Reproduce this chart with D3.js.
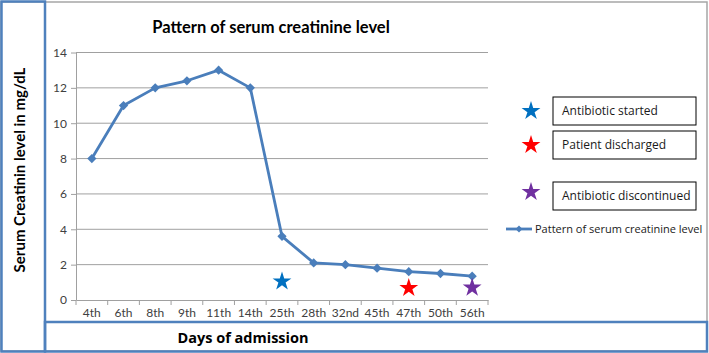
<!DOCTYPE html>
<html>
<head>
<meta charset="utf-8">
<script src="https://cdn.jsdelivr.net/npm/d3@7/dist/d3.min.js"></script>
<style>
  body { margin: 0; background: #fff; }
  text { font-family: "Open Sans", "Noto Sans", sans-serif; }
</style>
</head>
<body>
<div id="chart"></div>
<script>
// data
const days = ["4th", "6th", "8th", "9th", "11th", "14th", "25th", "28th", "32nd", "45th", "47th", "50th", "56th"];
const creatinine = [8, 11, 12, 12.4, 13, 12, 3.6, 2.1, 2.0, 1.8, 1.6, 1.5, 1.35];
const yTicks = [0, 2, 4, 6, 8, 10, 12, 14];
const eventLabels = ["Antibiotic started", "Patient discharged", "Antibiotic discontinued"];
const eventDays = ["25th", "47th", "56th"];
const eventValues = [1.05, 0.68, 0.7];
const eventColors = ["#0070c0", "#ff0000", "#7030a0"];

const W = 709, H = 353;
const svg = d3.select("#chart").append("svg").attr("width", W).attr("height", H);

// outer frame
svg.append("rect").attr("x", 1).attr("y", 2).attr("width", W - 3).attr("height", H - 4)
    .attr("fill", "none").attr("stroke", "#a6a6a6").attr("stroke-width", 1.5);

let x = d3.scaleBand().domain(days).range([76, 488]);
let y = d3.scaleLinear().domain([0, 14]).range([300, 52.5]);

// gridlines
svg.append("g").selectAll("line").data(yTicks.filter(d => d > 0)).join("line")
    .attr("x1", 76).attr("x2", 488)
    .attr("y1", d => y(d)).attr("y2", d => y(d))
    .attr("stroke", "#a0a0a0").attr("stroke-width", 1);

// y axis
let yAxis = svg.append("g").attr("transform", "translate(76,0)")
    .call(d3.axisLeft(y).tickValues(yTicks).tickSize(5).tickSizeOuter(0));
yAxis.select(".domain").attr("stroke", "#a0a0a0");
yAxis.selectAll(".tick line").attr("stroke", "#a0a0a0");
yAxis.selectAll("text").attr("fill", "#404040").style("font-size", "12px")
    .style("font-family", "Lato, sans-serif").attr("x", -9);

// x axis, ticks between categories
let xAxis = svg.append("g").attr("transform", "translate(0,300)")
    .call(d3.axisBottom(x).tickSize(0).tickPadding(8));
xAxis.select(".domain").attr("stroke", "#a0a0a0");
xAxis.selectAll("text").attr("fill", "#404040").style("font-size", "12px")
    .style("font-family", "Lato, sans-serif");
svg.append("g").selectAll("line").data(days.concat(["end"])).join("line")
    .attr("x1", (d, i) => i < days.length ? x(d) : x.range()[1])
    .attr("x2", (d, i) => i < days.length ? x(d) : x.range()[1])
    .attr("y1", 300).attr("y2", 305)
    .attr("stroke", "#a0a0a0");

// line
const lineColor = "#4a7ebb";
svg.append("path")
    .datum(creatinine)
    .attr("d", d3.line().x((d, i) => x(days[i]) + x.bandwidth() / 2).y(d => y(d)))
    .attr("fill", "none").attr("stroke", lineColor).attr("stroke-width", 2.8)
    .attr("stroke-linejoin", "round");

let diamond = d3.symbol().type(d3.symbolDiamond2).size(55);
svg.append("g").selectAll("path").data(creatinine).join("path")
    .attr("d", diamond)
    .attr("transform", (d, i) => `translate(${x(days[i]) + x.bandwidth() / 2},${y(d)})`)
    .attr("fill", lineColor);

// event stars on the plot
let star = d3.symbol().type(d3.symbolStar).size(110);
svg.append("g").selectAll("path").data(eventDays).join("path")
    .attr("d", star)
    .attr("transform", (d, i) => `translate(${x(d) + x.bandwidth() / 2},${y(eventValues[i])})`)
    .attr("fill", (d, i) => eventColors[i]);

// title
svg.append("text").attr("x", 271).attr("y", 33).attr("text-anchor", "middle")
    .style("font-family", "Lato, sans-serif")
    .style("font-size", "16.5px").style("font-weight", "bold").attr("fill", "#000")
    .text("Pattern of serum creatinine level");

// left label box
const boxBlue = "#4f81bd";
svg.append("rect").attr("x", 1.5).attr("y", 1.5).attr("width", 43.5).attr("height", H - 3)
    .attr("fill", "none").attr("stroke", boxBlue).attr("stroke-width", 2.5);
svg.append("text").attr("transform", "translate(25,170) rotate(-90)")
    .attr("text-anchor", "middle").style("font-size", "15px").style("font-weight", "bold")
    .style("font-family", "Lato, sans-serif")
    .text("Serum Creatinin level in mg/dL");

// bottom label box
svg.append("rect").attr("x", 45).attr("y", 322).attr("width", 662).attr("height", 29.5)
    .attr("fill", "none").attr("stroke", boxBlue).attr("stroke-width", 2.5);
svg.append("text").attr("x", 243).attr("y", 343).attr("text-anchor", "middle")
    .style("font-size", "14.5px").style("font-weight", "bold")
    .text("Days of admission");

// legend boxes for events
const boxTops = [97, 131, 182];
const legend = svg.append("g");
eventLabels.forEach((lab, i) => {
    legend.append("path").attr("d", star)
        .attr("transform", `translate(531,${boxTops[i] + (i === 2 ? 10 : 14)})`)
        .attr("fill", eventColors[i]);
    legend.append("rect").attr("x", 553).attr("y", boxTops[i]).attr("width", 143).attr("height", 28)
        .attr("fill", "#fff").attr("stroke", "#000").attr("stroke-width", 1);
    legend.append("text").attr("x", 562).attr("y", boxTops[i] + 18)
        .style("font-size", "12px").attr("fill", "#1a1a1a").text(lab);
});

// series legend
legend.append("line").attr("x1", 506).attr("x2", 532).attr("y1", 229).attr("y2", 229)
    .attr("stroke", lineColor).attr("stroke-width", 2.8);
legend.append("path").attr("d", d3.symbol().type(d3.symbolDiamond2).size(30))
    .attr("transform", "translate(519,229)").attr("fill", lineColor);
legend.append("text").attr("x", 535).attr("y", 233)
    .style("font-size", "11px").attr("fill", "#1a1a1a")
    .text("Pattern of serum creatinine level");
</script>
</body>
</html>
